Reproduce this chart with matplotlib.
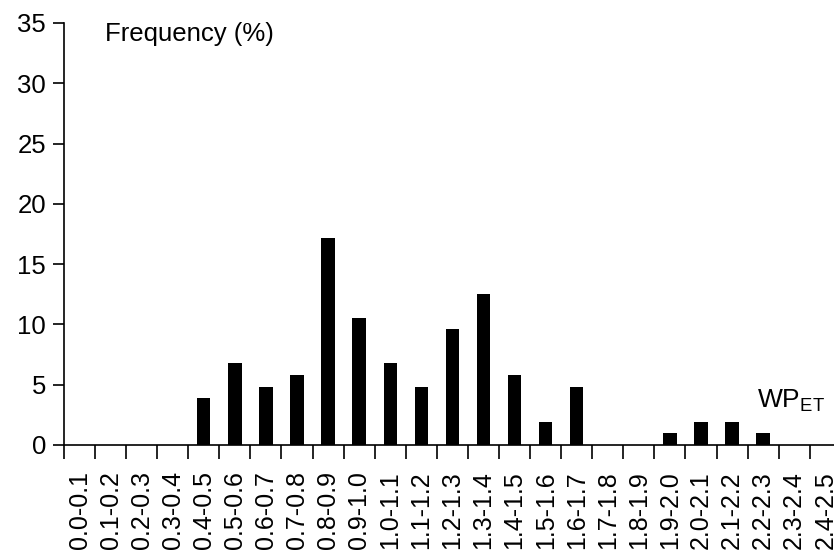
import matplotlib.pyplot as plt

plt.rcParams['font.family'] = ['Liberation Sans', 'DejaVu Sans']
plt.rcParams['mathtext.fontset'] = 'custom'
plt.rcParams['mathtext.rm'] = 'Liberation Sans'

classes = ['0.0-0.1', '0.1-0.2', '0.2-0.3', '0.3-0.4', '0.4-0.5', '0.5-0.6',
           '0.6-0.7', '0.7-0.8', '0.8-0.9', '0.9-1.0', '1.0-1.1', '1.1-1.2',
           '1.2-1.3', '1.3-1.4', '1.4-1.5', '1.5-1.6', '1.6-1.7', '1.7-1.8',
           '1.8-1.9', '1.9-2.0', '2.0-2.1', '2.1-2.2', '2.2-2.3', '2.3-2.4',
           '2.4-2.5']
freq = [0, 0, 0, 0, 3.9, 6.8, 4.8, 5.8, 17.2, 10.5, 6.8, 4.8,
        9.6, 12.5, 5.8, 1.9, 4.8, 0, 0, 1.0, 1.9, 1.9, 1.0, 0, 0]
yticks = [0, 5, 10, 15, 20, 25, 30, 35]

fig = plt.figure(figsize=(8.34, 5.54), dpi=100)
ax = fig.add_axes([0.0767, 0.1968, 0.9315, 0.7617])

pos = list(range(len(classes)))
ax.bar(pos, freq, width=0.43, color='black')

ax.set_xlim(-0.5, len(classes) - 0.5)
ax.set_ylim(0, 35)
ax.set_yticks(yticks)
# boundary ticks between classes, labels centred under bars
ax.set_xticks([p - 0.5 for p in pos] + [len(classes) - 0.5])
ax.set_xticklabels([])
ax.set_xticks(pos, minor=True)
ax.set_xticklabels(classes, minor=True, rotation=90, fontsize=18)
ax.tick_params(axis='x', which='minor', length=0, pad=19)
ax.tick_params(axis='x', which='major', length=10, width=1.2, direction='out')
ax.tick_params(axis='y', length=8, width=1.2, labelsize=18.5, pad=5)

for s in ['top', 'right']:
    ax.spines[s].set_visible(False)
ax.spines['left'].set_linewidth(1.2)
ax.spines['bottom'].set_linewidth(1.2)

fig.text(105 / 834, 1 - 22 / 554, 'Frequency (%)', fontsize=18.5, va='top')
fig.text(757 / 834, 1 - 407 / 554, r'WP$_{\mathrm{ET}}$', fontsize=19, va='baseline')

fig.savefig('out.png', dpi=100)
